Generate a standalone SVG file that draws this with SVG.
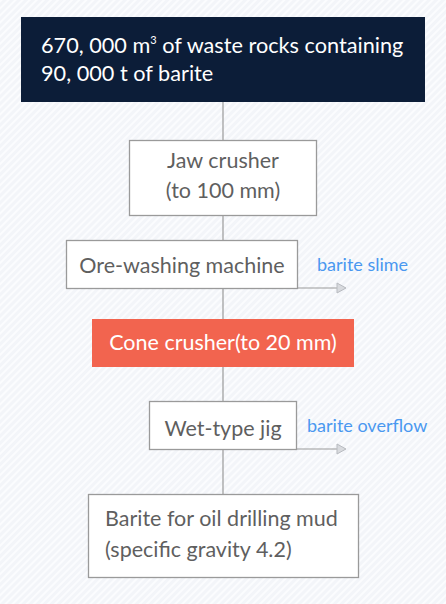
<svg xmlns="http://www.w3.org/2000/svg" width="446" height="604" viewBox="0 0 446 604">
<defs>
<pattern id="hatch" width="5" height="5" patternUnits="userSpaceOnUse" patternTransform="rotate(45)">
<rect width="5" height="5" fill="#f3f5f9"/>
<rect width="2" height="5" fill="#fbfcfe"/>
</pattern>
<marker id="arr" markerWidth="12" markerHeight="12" refX="10" refY="6" orient="auto" markerUnits="userSpaceOnUse">
<path d="M2,1 L11,6 L2,11 Z" fill="#d8dade" stroke="#b8bbc0" stroke-width="1"/>
</marker>
<style>
.box{fill:#ffffff;stroke:#9a9a9a;stroke-width:1.3}
.t{font-family:Lato,"Open Sans","Liberation Sans",sans-serif;font-size:21.5px;fill:#5f5f5f}
.w{fill:#ffffff}
.b{font-family:Lato,"Open Sans","Liberation Sans",sans-serif;font-size:18px;fill:#4a98f0}
.c{stroke:#9a9a9a;stroke-width:1.2;fill:none}
</style>
</defs>
<rect width="446" height="604" fill="url(#hatch)"/>
<g id="connectors">
<line class="c" x1="223" y1="102" x2="223" y2="140"/>
<line class="c" x1="223" y1="215" x2="223" y2="240"/>
<line class="c" x1="223" y1="288" x2="223" y2="319"/>
<line class="c" x1="223" y1="367" x2="223" y2="401"/>
<line class="c" x1="223" y1="449" x2="223" y2="494"/>
<line class="c" x1="297" y1="288" x2="345" y2="288" marker-end="url(#arr)"/>
<line class="c" x1="296" y1="449" x2="345" y2="449" marker-end="url(#arr)"/>
</g>
<g id="source">
<rect x="21" y="17" width="404" height="85" fill="#0c1d38"/>
<text class="t w" x="41" y="53" style="font-size:21.7px">670, 000 m<tspan style="font-size:11px" dy="-9">3</tspan><tspan dy="9"> of waste rocks containing</tspan></text>
<text class="t w" x="41" y="81" style="font-size:21.7px">90, 000 t of barite</text>
</g>
<g id="jaw">
<rect class="box" x="129.5" y="140.5" width="187" height="75"/>
<text class="t" x="223" y="167.5" text-anchor="middle">Jaw crusher</text>
<text class="t" x="223" y="198" text-anchor="middle">(to 100 mm)</text>
</g>
<g id="washer">
<rect class="box" x="66.5" y="240.5" width="231" height="48"/>
<text class="t" x="182" y="273" text-anchor="middle">Ore-washing machine</text>
<text class="b" x="317" y="270.5">barite slime</text>
</g>
<g id="cone">
<rect x="92" y="319" width="262" height="48" fill="#f2644f"/>
<text class="t w" x="223" y="350" text-anchor="middle">Cone crusher(to 20 mm)</text>
</g>
<g id="jig">
<rect class="box" x="149.5" y="401.5" width="147" height="48"/>
<text class="t" x="223" y="435.5" text-anchor="middle">Wet-type jig</text>
<text class="b" x="307" y="431.5">barite overflow</text>
</g>
<g id="product">
<rect class="box" x="88.5" y="494.5" width="270" height="83"/>
<text class="t" x="105" y="526">Barite for oil drilling mud</text>
<text class="t" x="105" y="556.5">(specific gravity 4.2)</text>
</g>
</svg>
